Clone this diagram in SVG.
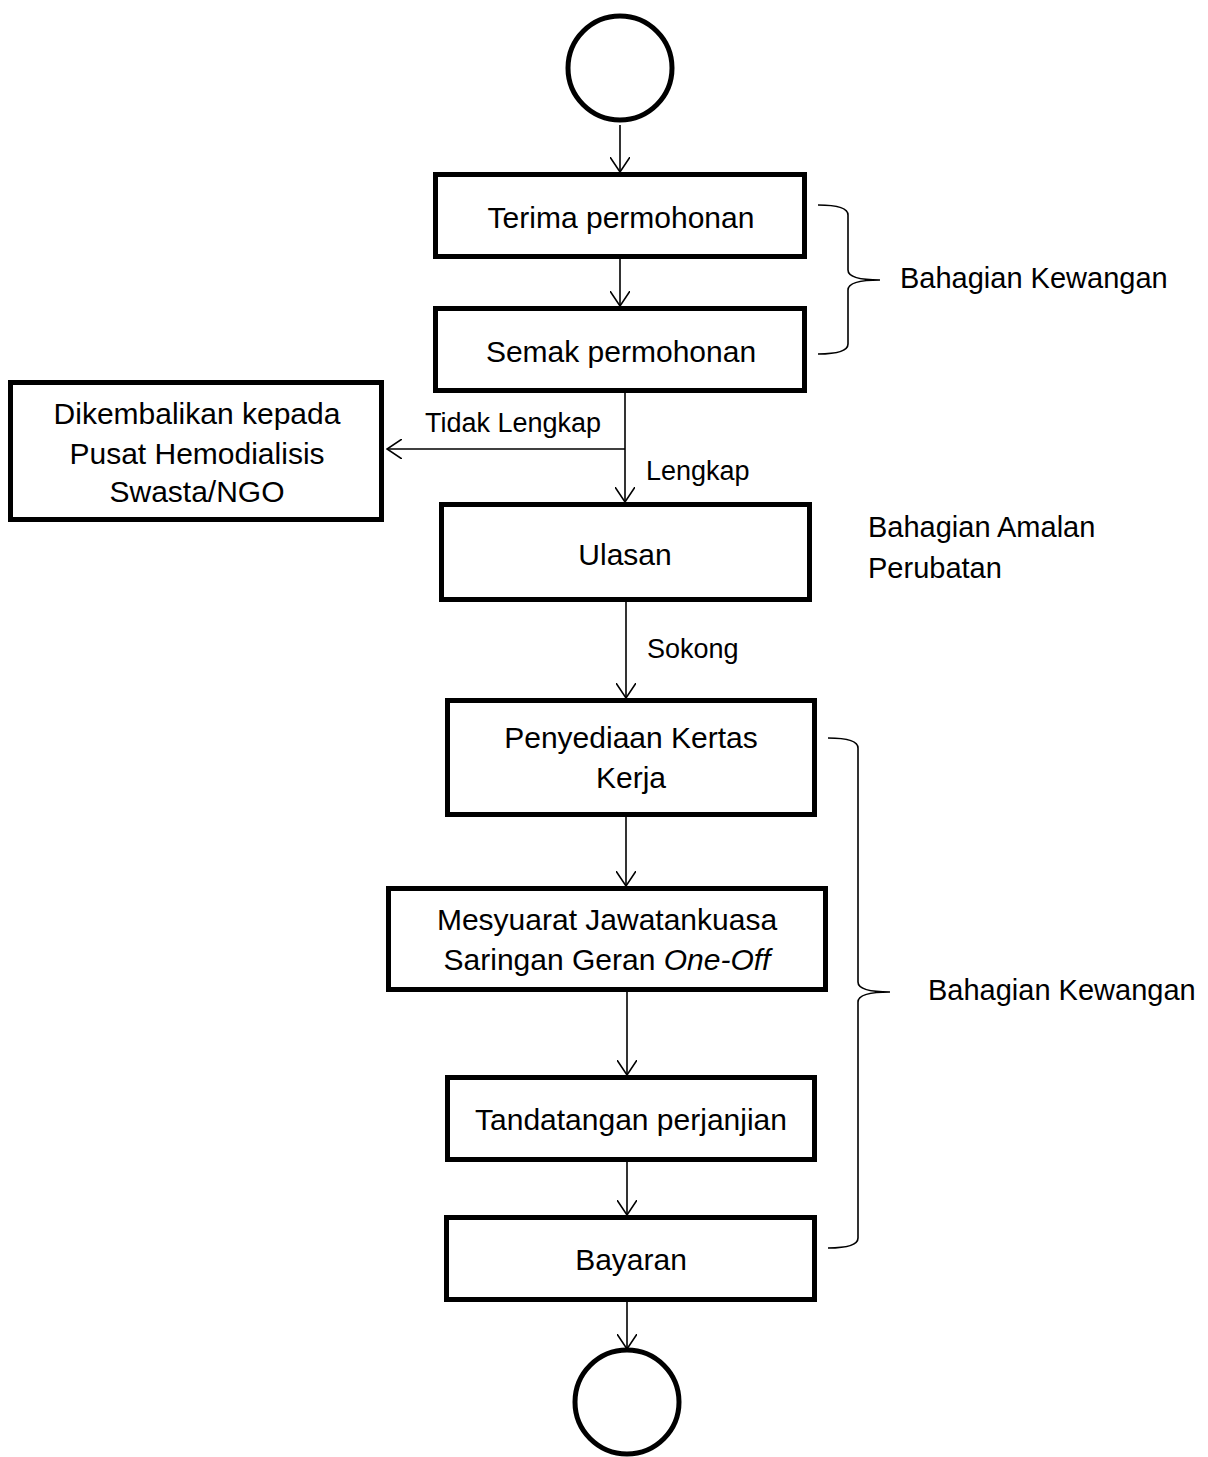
<svg xmlns="http://www.w3.org/2000/svg" width="1208" height="1457" viewBox="0 0 1208 1457">
<defs>
<marker id="arr" viewBox="0 0 16 20" refX="15" refY="10" markerWidth="16" markerHeight="20" markerUnits="userSpaceOnUse" orient="auto">
<path d="M0,0 L15,10 L0,20" fill="none" stroke="#000" stroke-width="1.6"/>
</marker>
<style>
.box{fill:#fff;stroke:#000;stroke-width:5}
.circ{fill:#fff;stroke:#000;stroke-width:5}
.t{font-family:"Liberation Sans",Arial,sans-serif;font-size:30px;fill:#000;text-anchor:middle}
.l{font-family:"Liberation Sans",Arial,sans-serif;font-size:29px;fill:#000}
.cl{font-family:"Liberation Sans",Arial,sans-serif;font-size:27px;fill:#000}
.c{fill:none;stroke:#000;stroke-width:1.6}
.br{fill:none;stroke:#000;stroke-width:1.6}
</style>
</defs>
<rect width="1208" height="1457" fill="#fff"/>
<g id="connectors">
<line class="c" x1="620" y1="125" x2="620" y2="172" marker-end="url(#arr)"/>
<line class="c" x1="620" y1="259" x2="620" y2="306" marker-end="url(#arr)"/>
<line class="c" x1="625" y1="393" x2="625" y2="502" marker-end="url(#arr)"/>
<line class="c" x1="625" y1="449" x2="387" y2="449" marker-end="url(#arr)"/>
<line class="c" x1="626" y1="602" x2="626" y2="698" marker-end="url(#arr)"/>
<line class="c" x1="626" y1="817" x2="626" y2="886" marker-end="url(#arr)"/>
<line class="c" x1="627" y1="992" x2="627" y2="1075" marker-end="url(#arr)"/>
<line class="c" x1="627" y1="1162" x2="627" y2="1215" marker-end="url(#arr)"/>
<line class="c" x1="627" y1="1302" x2="627" y2="1349" marker-end="url(#arr)"/>
<text class="cl" x="425" y="432">Tidak Lengkap</text>
<text class="cl" x="646" y="480">Lengkap</text>
<text class="cl" x="647" y="658">Sokong</text>
</g>
<g id="start"><circle class="circ" cx="620" cy="68" r="52"/></g>
<g id="terima"><rect class="box" x="435.5" y="174.5" width="369" height="82"/><text class="t" x="621" y="228">Terima permohonan</text></g>
<g id="semak"><rect class="box" x="435.5" y="308.5" width="369" height="82"/><text class="t" x="621" y="362">Semak permohonan</text></g>
<g id="dikembalikan"><rect class="box" x="10.5" y="382.5" width="371" height="137"/>
<text class="t" x="197" y="424">Dikembalikan kepada</text>
<text class="t" x="197" y="464">Pusat Hemodialisis</text>
<text class="t" x="197" y="502">Swasta/NGO</text></g>
<g id="ulasan"><rect class="box" x="441.5" y="504.5" width="368" height="95"/><text class="t" x="625" y="565">Ulasan</text></g>
<g id="penyediaan"><rect class="box" x="447.5" y="700.5" width="367" height="114"/>
<text class="t" x="631" y="748">Penyediaan Kertas</text>
<text class="t" x="631" y="788">Kerja</text></g>
<g id="mesyuarat"><rect class="box" x="388.5" y="888.5" width="437" height="101"/>
<text class="t" x="607" y="930">Mesyuarat Jawatankuasa</text>
<text class="t" x="607" y="970">Saringan Geran <tspan font-style="italic">One-Off</tspan></text></g>
<g id="tandatangan"><rect class="box" x="447.5" y="1077.5" width="367" height="82"/><text class="t" x="631" y="1130">Tandatangan perjanjian</text></g>
<g id="bayaran"><rect class="box" x="446.5" y="1217.5" width="368" height="82"/><text class="t" x="631" y="1270">Bayaran</text></g>
<g id="end"><circle class="circ" cx="627" cy="1402" r="52"/></g>
<g id="brace1">
<path class="br" d="M818,205 Q848,205 848,215 L848,270 Q848,280 880,280 Q848,280 848,290 L848,344 Q848,354 818,354"/>
<text class="l" x="900" y="288">Bahagian Kewangan</text>
</g>
<g id="amalan">
<text class="l" x="868" y="537" font-size="30">Bahagian Amalan</text>
<text class="l" x="868" y="578" font-size="30">Perubatan</text>
</g>
<g id="brace2">
<path class="br" d="M828,738 Q858,738 858,748 L858,982 Q858,992 890,992 Q858,992 858,1002 L858,1238 Q858,1248 828,1248"/>
<text class="l" x="928" y="1000">Bahagian Kewangan</text>
</g>
</svg>
